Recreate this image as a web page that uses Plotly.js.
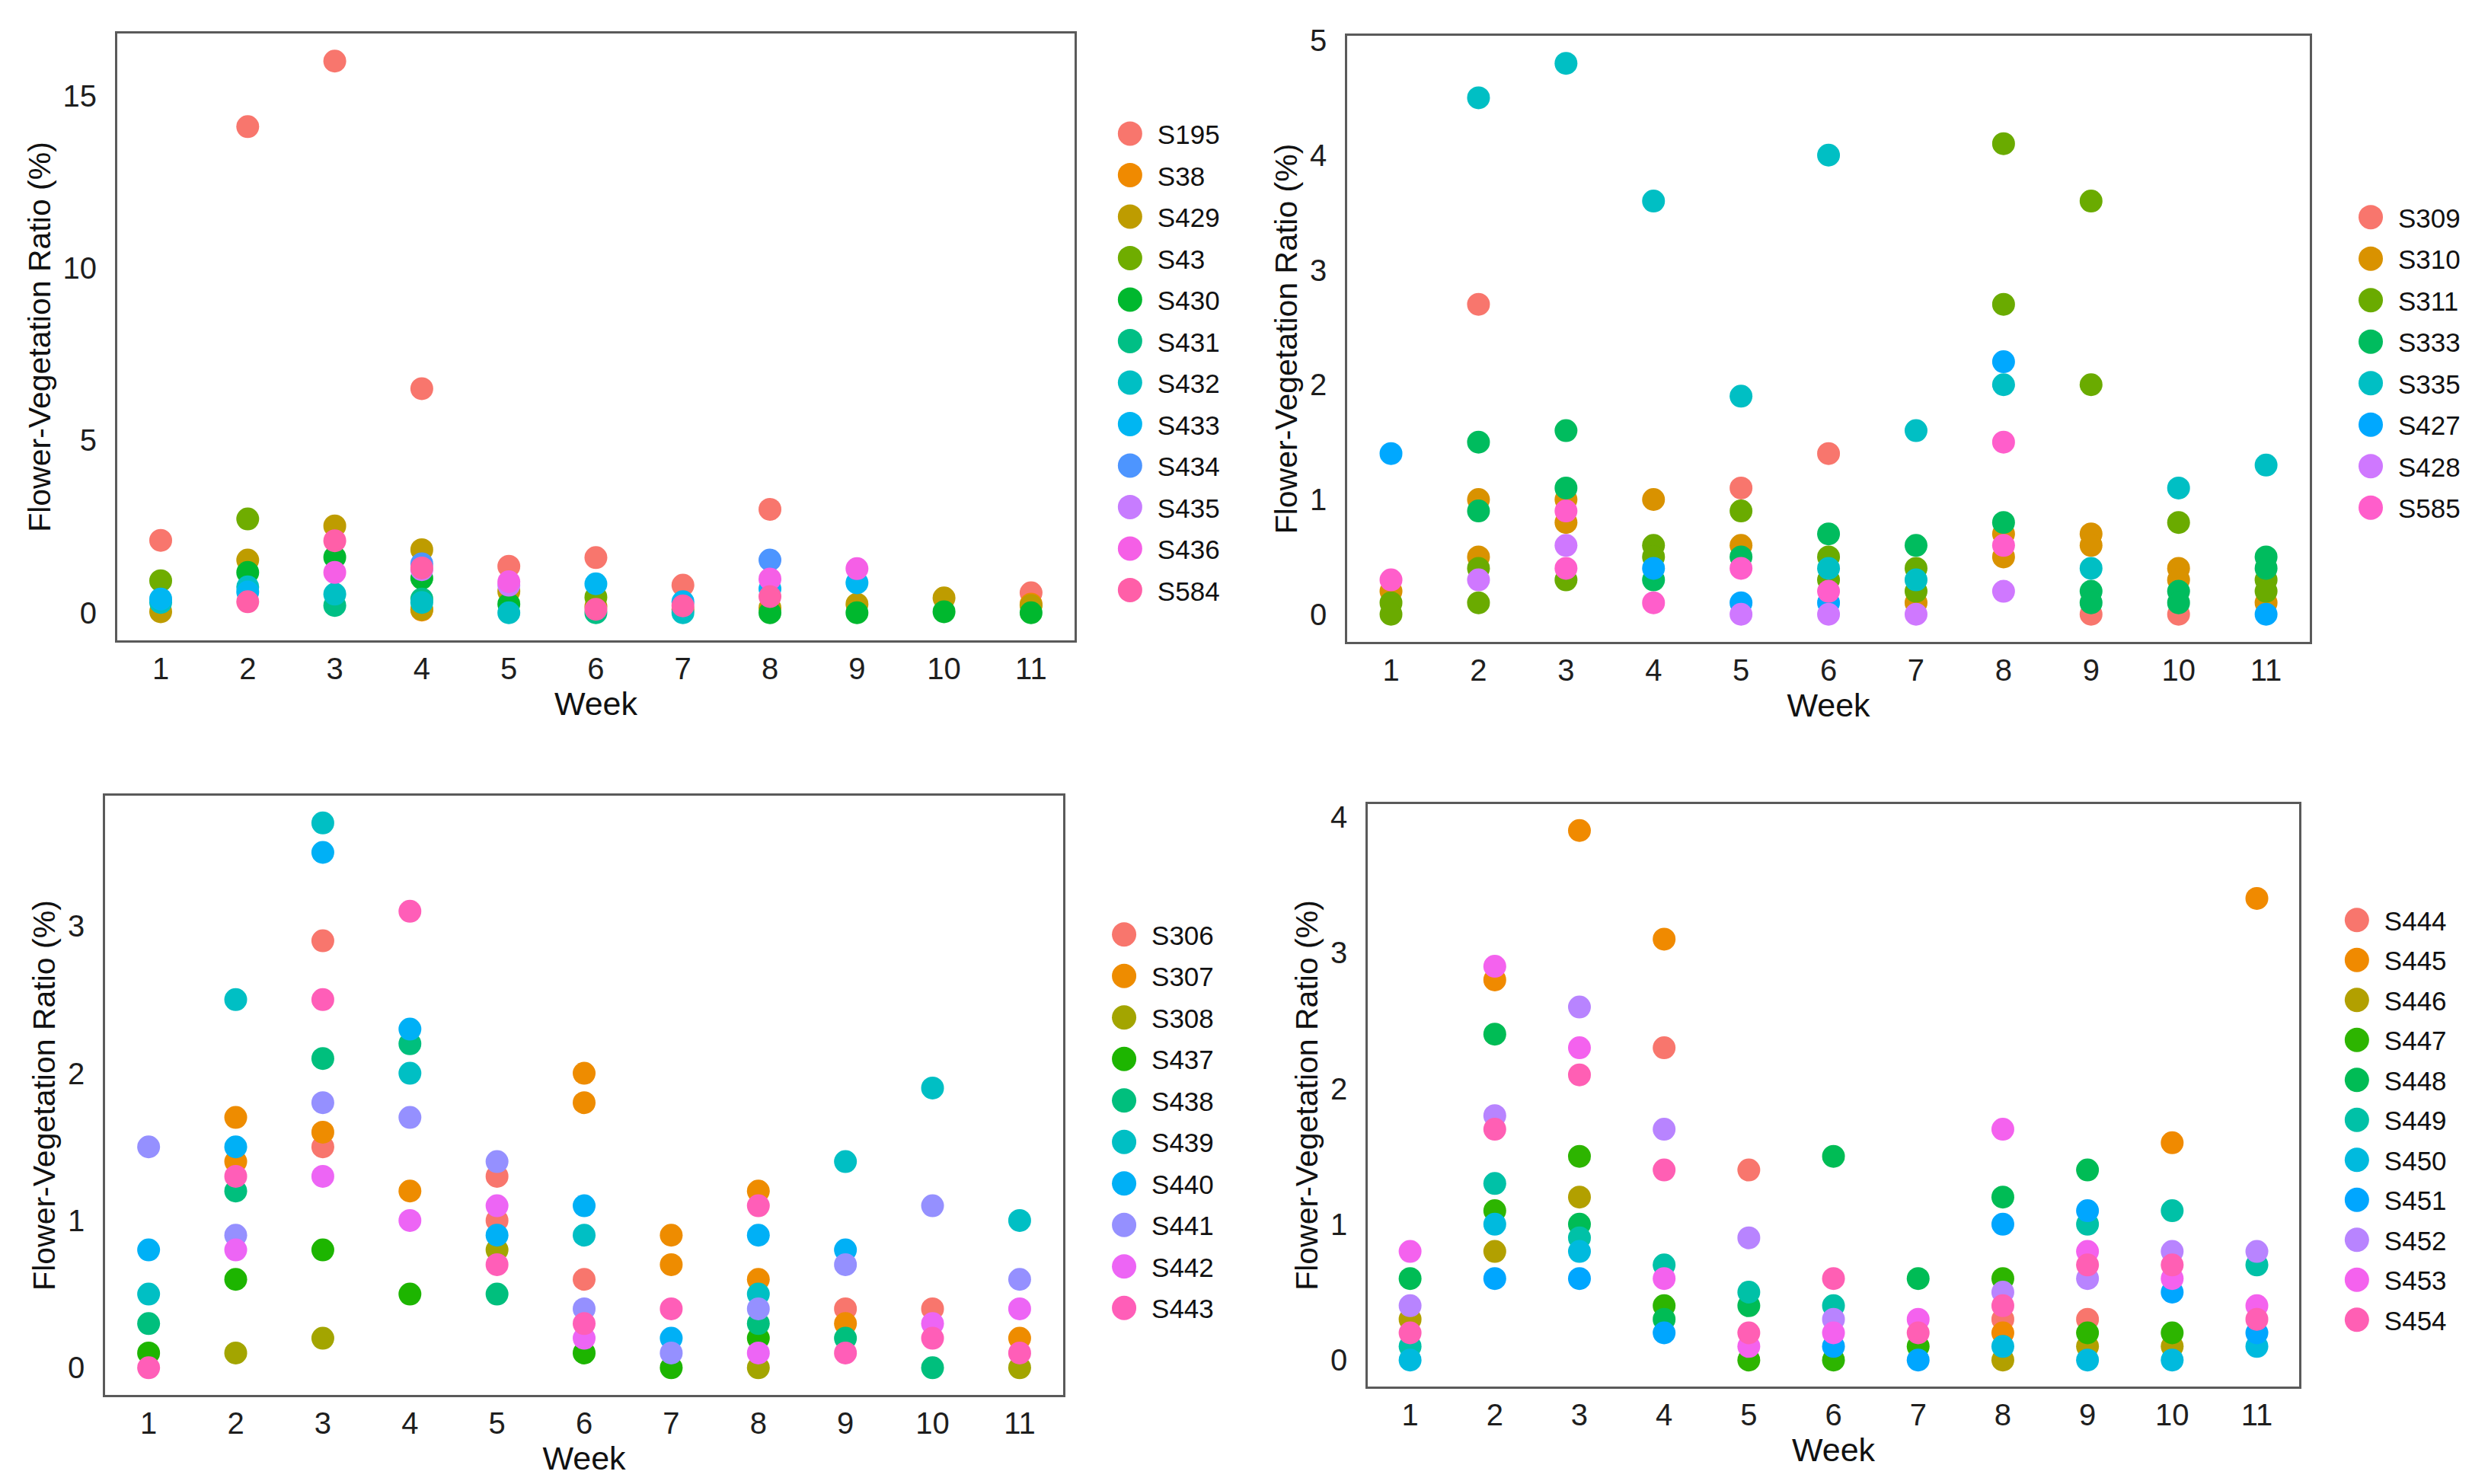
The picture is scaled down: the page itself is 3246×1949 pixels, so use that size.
<!DOCTYPE html>
<html>
<head>
<meta charset="utf-8">
<script src="https://cdn.plot.ly/plotly-3.0.1.min.js"></script>
<style>
  html, body { margin: 0; padding: 0; background: #fff; }
  #chart { width: 3246px; height: 1949px; }
</style>
</head>
<body>
<div id="chart"></div>
<script>
// weeks shared by all four panels
const weeks = [1, 2, 3, 4, 5, 6, 7, 8, 9, 10, 11];

// panel 1 (top left)
const p1_names = ['S195', 'S38', 'S429', 'S43', 'S430', 'S431', 'S432', 'S433', 'S434', 'S435', 'S436', 'S584'];
const p1_weeks = [
	[1, 2, 3, 4, 5, 6, 7, 8, 11],
	[4, 11],
	[1, 2, 3, 4, 4, 5, 6, 7, 8, 9, 10, 11],
	[1, 2, 6],
	[2, 3, 4, 5, 8, 9, 10, 11],
	[3, 4, 6],
	[1, 2, 3, 4, 5, 7],
	[1, 2, 6, 7, 8, 9],
	[4, 8],
	[4, 5],
	[3, 5, 8, 9],
	[2, 3, 4, 6, 7, 8]
];
const p1_values = [
	[2.1, 14.1, 16.0, 6.5, 1.35, 1.6, 0.8, 3.0, 0.58],
	[0.08, 0.25],
	[0.03, 1.53, 2.52, 1.83, 0.1, 0.62, 0.18, 0.1, 0.14, 0.25, 0.43, 0.21],
	[0.93, 2.72, 0.45],
	[1.17, 1.61, 1.0, 0.25, 0.0, 0.0, 0.03, 0.0],
	[0.21, 0.4, 0.0],
	[0.3, 0.75, 0.54, 0.3, 0.0, 0.0],
	[0.4, 0.6, 0.84, 0.32, 0.69, 0.87],
	[1.42, 1.53],
	[1.25, 0.8],
	[1.17, 0.9, 0.98, 1.28],
	[0.32, 2.09, 1.3, 0.1, 0.2, 0.47]
];

// panel 2 (top right)
const p2_names = ['S309', 'S310', 'S311', 'S333', 'S335', 'S427', 'S428', 'S585'];
const p2_weeks = [
	[2, 5, 6, 9, 10],
	[1, 2, 2, 3, 3, 4, 5, 7, 8, 8, 9, 9, 10, 10, 11],
	[1, 1, 2, 2, 3, 4, 4, 5, 6, 6, 7, 7, 8, 8, 9, 9, 10, 11, 11],
	[2, 2, 3, 3, 4, 5, 6, 7, 8, 9, 9, 10, 10, 11, 11],
	[2, 3, 4, 5, 6, 6, 7, 7, 8, 9, 10, 11],
	[1, 4, 5, 6, 8, 11],
	[2, 3, 5, 6, 7, 8],
	[1, 3, 3, 4, 5, 6, 8, 8]
];
const p2_values = [
	[2.7, 1.1, 1.4, 0.0, 0.0],
	[0.2, 1.0, 0.5, 1.0, 0.8, 1.0, 0.6, 0.1, 0.7, 0.5, 0.7, 0.6, 0.4, 0.3, 0.1],
	[0.1, 0.0, 0.4, 0.1, 0.3, 0.6, 0.5, 0.9, 0.5, 0.3, 0.4, 0.2, 4.1, 2.7, 3.6, 2.0, 0.8, 0.3, 0.2],
	[1.5, 0.9, 1.6, 1.1, 0.3, 0.5, 0.7, 0.6, 0.8, 0.2, 0.1, 0.2, 0.1, 0.5, 0.4],
	[4.5, 4.8, 3.6, 1.9, 4.0, 0.4, 1.6, 0.3, 2.0, 0.4, 1.1, 1.3],
	[1.4, 0.4, 0.1, 0.1, 2.2, 0.0],
	[0.3, 0.6, 0.0, 0.0, 0.0, 0.2],
	[0.3, 0.9, 0.4, 0.1, 0.4, 0.2, 1.5, 0.6]
];

// panel 3 (bottom left)
const p3_names = ['S306', 'S307', 'S308', 'S437', 'S438', 'S439', 'S440', 'S441', 'S442', 'S443'];
const p3_weeks = [
	[3, 3, 5, 5, 6, 9, 10],
	[2, 2, 3, 4, 6, 6, 7, 7, 8, 8, 9, 11],
	[2, 3, 5, 8, 11],
	[1, 2, 3, 4, 6, 7, 8],
	[1, 2, 3, 4, 5, 8, 9, 10],
	[1, 2, 3, 4, 6, 8, 9, 10, 11],
	[1, 2, 3, 4, 5, 6, 7, 8, 9],
	[1, 2, 3, 4, 5, 6, 7, 8, 9, 10, 11],
	[2, 3, 4, 5, 6, 8, 10, 11],
	[1, 2, 3, 4, 5, 6, 7, 8, 9, 10, 11]
];
const p3_values = [
	[2.9, 1.5, 1.3, 1.0, 0.6, 0.4, 0.4],
	[1.7, 1.4, 1.6, 1.2, 2.0, 1.8, 0.9, 0.7, 1.2, 0.6, 0.3, 0.2],
	[0.1, 0.2, 0.8, 0.0, 0.0],
	[0.1, 0.6, 0.8, 0.5, 0.1, 0.0, 0.2],
	[0.3, 1.2, 2.1, 2.2, 0.5, 0.3, 0.2, 0.0],
	[0.5, 2.5, 3.7, 2.0, 0.9, 0.5, 1.4, 1.9, 1.0],
	[0.8, 1.5, 3.5, 2.3, 0.9, 1.1, 0.2, 0.9, 0.8],
	[1.5, 0.9, 1.8, 1.7, 1.4, 0.4, 0.1, 0.4, 0.7, 1.1, 0.6],
	[0.8, 1.3, 1.0, 1.1, 0.2, 0.1, 0.3, 0.4],
	[0.0, 1.3, 2.5, 3.1, 0.7, 0.3, 0.4, 1.1, 0.1, 0.2, 0.1]
];

// panel 4 (bottom right)
const p4_names = ['S444', 'S445', 'S446', 'S447', 'S448', 'S449', 'S450', 'S451', 'S452', 'S453', 'S454'];
const p4_weeks = [
	[4, 5, 8, 9],
	[2, 3, 4, 8, 10, 11],
	[1, 2, 3, 8, 9, 10],
	[2, 3, 4, 5, 6, 7, 8, 9, 10],
	[1, 2, 3, 4, 5, 6, 7, 8, 9],
	[1, 2, 3, 4, 5, 6, 9, 10, 11],
	[1, 2, 3, 8, 9, 10, 11],
	[2, 3, 4, 6, 7, 8, 9, 10, 11],
	[1, 2, 3, 4, 5, 6, 8, 9, 10, 11],
	[1, 2, 3, 4, 5, 6, 7, 8, 9, 10, 11],
	[1, 2, 3, 4, 5, 6, 7, 8, 9, 10, 11]
];
const p4_values = [
	[2.3, 1.4, 0.3, 0.3],
	[2.8, 3.9, 3.1, 0.2, 1.6, 3.4],
	[0.3, 0.8, 1.2, 0.0, 0.1, 0.1],
	[1.1, 1.5, 0.4, 0.0, 0.0, 0.1, 0.6, 0.2, 0.2],
	[0.6, 2.4, 1.0, 0.3, 0.4, 1.5, 0.6, 1.2, 1.4],
	[0.1, 1.3, 0.9, 0.7, 0.5, 0.4, 1.0, 1.1, 0.7],
	[0.0, 1.0, 0.8, 0.1, 0.0, 0.0, 0.1],
	[0.6, 0.6, 0.2, 0.1, 0.0, 1.0, 1.1, 0.5, 0.2],
	[0.4, 1.8, 2.6, 1.7, 0.9, 0.3, 0.5, 0.6, 0.8, 0.8],
	[0.8, 2.9, 2.3, 0.6, 0.1, 0.2, 0.3, 1.7, 0.8, 0.6, 0.4],
	[0.2, 1.7, 2.1, 1.4, 0.2, 0.6, 0.2, 0.4, 0.7, 0.7, 0.3]
];

// hue palettes (ggplot-like, a bit more saturated as in the figure)
const pal12 = ['#F8766D', '#F08A00', '#BE9C00', '#6FAD00', '#00B82E', '#00BF85', '#00BFC4', '#00B6F2', '#4D95FF', '#C77CFF', '#F55FE6', '#FF5FA8'];
const pal8 = ['#F8766D', '#D99200', '#6AAB00', '#00BC5E', '#00BFC4', '#00A8FF', '#CF78FF', '#FF5ECB'];
const pal10 = ['#F8766D', '#EE8C00', '#A3A500', '#1DB500', '#00BF7D', '#00BFC4', '#00B0F6', '#9590FF', '#ED65F5', '#FF5EB8'];
const pal11 = ['#F8766D', '#F08A00', '#B2A000', '#2DB500', '#00BC55', '#00C1A7', '#00BADE', '#00A6FF', '#B884FF', '#F462EE', '#FF5FB4'];

const font_family = '"Liberation Sans", Arial, Helvetica, sans-serif';
const frame_color = '#5a5a5a';

function make_traces(names, wk, vals, colors, n) {
	const xa = n === 1 ? 'x' : 'x' + n;
	const ya = n === 1 ? 'y' : 'y' + n;
	const lg = n === 1 ? 'legend' : 'legend' + n;
	return names.map((name, i) => ({
		type: 'scatter',
		mode: 'markers',
		x: wk[i],
		y: vals[i],
		name: name,
		xaxis: xa,
		yaxis: ya,
		legend: lg,
		legendgroup: 'p' + n + '_' + name,
		marker: {color: colors[i], size: 30, line: {width: 0}},
		hoverinfo: 'x+y+name'
	}));
}

function x_axis(domain, anchor) {
	return {
		domain: domain,
		anchor: anchor,
		range: [0.5, 11.5],
		tickvals: weeks,
		ticktext: weeks.map(String),
		ticks: '',
		ticklabelstandoff: 0,
		showgrid: false,
		zeroline: false,
		showline: true,
		mirror: true,
		linecolor: frame_color,
		linewidth: 2.5,
		tickfont: {family: font_family, size: 40, color: '#1e1e1e'},
		title: {text: 'Week', font: {family: font_family, size: 43, color: '#111'}, standoff: 4}
	};
}

function y_axis(domain, anchor, range, tickvals) {
	return {
		domain: domain,
		anchor: anchor,
		range: range,
		tickvals: tickvals,
		ticktext: tickvals.map(String),
		ticks: '',
		ticklabelstandoff: 16,
		showgrid: false,
		zeroline: false,
		showline: true,
		mirror: true,
		linecolor: frame_color,
		linewidth: 2.5,
		tickfont: {family: font_family, size: 40, color: '#1e1e1e'},
		title: {text: 'Flower-Vegetation Ratio (%)', font: {family: font_family, size: 41, color: '#111'}, standoff: 4}
	};
}

function legend_at(x, y, gap) {
	return {
		x: x,
		y: y,
		xanchor: 'left',
		yanchor: 'top',
		traceorder: 'grouped',
		tracegroupgap: gap,
		bgcolor: 'rgba(0,0,0,0)',
		font: {family: font_family, size: 35, color: '#111'}
	};
}

const data = [].concat(
	make_traces(p1_names, p1_weeks, p1_values, pal12, 1),
	make_traces(p2_names, p2_weeks, p2_values, pal8, 2),
	make_traces(p3_names, p3_weeks, p3_values, pal10, 3),
	make_traces(p4_names, p4_weeks, p4_values, pal11, 4)
);

const layout = {
	width: 3246,
	height: 1949,
	margin: {l: 0, r: 0, t: 0, b: 0},
	paper_bgcolor: '#fff',
	plot_bgcolor: '#fff',
	showlegend: true,
	xaxis: x_axis([0.0474, 0.4347], 'y'),
	yaxis: y_axis([0.5685, 0.9774], 'x', [-0.8, 16.8], [0, 5, 10, 15]),
	xaxis2: x_axis([0.5450, 0.9344], 'y2'),
	yaxis2: y_axis([0.5675, 0.9759], 'x2', [-0.24, 5.04], [0, 1, 2, 3, 4, 5]),
	xaxis3: x_axis([0.0425, 0.4301], 'y3'),
	yaxis3: y_axis([0.0600, 0.4638], 'x3', [-0.185, 3.885], [0, 1, 2, 3]),
	xaxis4: x_axis([0.5533, 0.9301], 'y4'),
	yaxis4: y_axis([0.0657, 0.4582], 'x4', [-0.195, 4.095], [0, 1, 2, 3, 4]),
	legend: legend_at(0.4559, 0.925, 6),
	legend2: legend_at(0.9578, 0.8687, 6),
	legend3: legend_at(0.4535, 0.3853, 6),
	legend4: legend_at(0.9522, 0.3951, 4)
};

Plotly.newPlot('chart', data, layout, {displayModeBar: false, responsive: false}).then(gd => {
	// legend keys are drawn at most 16px wide; the figure uses keys as big as the points,
	// set a bit further left of the label (so the legend clip boxes have to go)
	gd.querySelectorAll('.scrollbox').forEach(s => s.removeAttribute('clip-path'));
	gd.querySelectorAll('.legendpoints path.scatterpts').forEach(p => {
		p.setAttribute('transform', 'translate(4,0) scale(2)');
	});
});
</script>
</body>
</html>
